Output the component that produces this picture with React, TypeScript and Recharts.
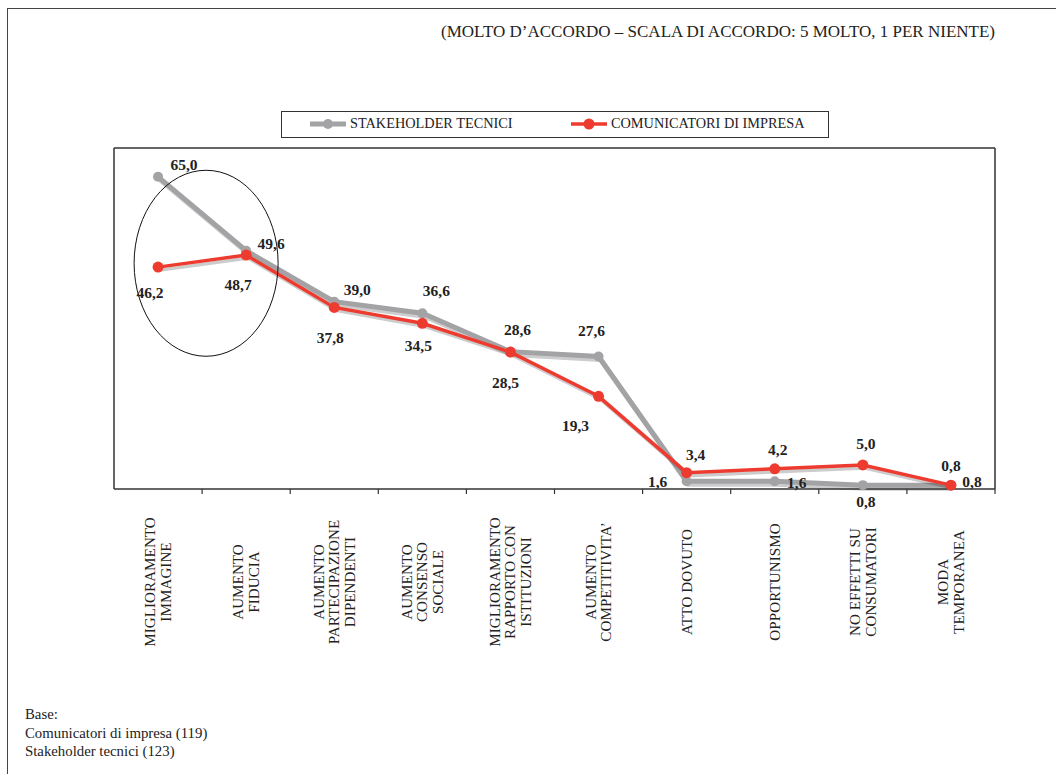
import React from 'react'
import { LineChart, Line, XAxis, YAxis, LabelList, ReferenceDot } from 'recharts'

const categories = [
  'MIGLIORAMENTO\nIMMAGINE',
  'AUMENTO\nFIDUCIA',
  'AUMENTO\nPARTECIPAZIONE\nDIPENDENTI',
  'AUMENTO\nCONSENSO\nSOCIALE',
  'MIGLIORAMENTO\nRAPPORTO CON\nISTITUZIONI',
  'AUMENTO\nCOMPETITIVITA’',
  'ATTO DOVUTO',
  'OPPORTUNISMO',
  'NO EFFETTI SU\nCONSUMATORI',
  'MODA\nTEMPORANEA',
]
const stakeholderTecnici = [65.0, 49.6, 39.0, 36.6, 28.6, 27.6, 1.6, 1.6, 0.8, 0.8]
const comunicatoriImpresa = [46.2, 48.7, 37.8, 34.5, 28.5, 19.3, 3.4, 4.2, 5.0, 0.8]

const title = '(MOLTO D’ACCORDO – SCALA DI ACCORDO: 5 MOLTO, 1 PER NIENTE)'
const baseNotes = ['Base:', 'Comunicatori di impresa (119)', 'Stakeholder tecnici (123)']

// label placement (dx, dy) around each point, as in the original
const stakeholderLabelPos = [[26, -12], [25, -7], [23, -12], [14, -23], [7, -22], [-7, -26], [-29, 0], [22, 1], [3, 16], [21, -4]]
const comunicatoriLabelPos = [[-8, 25], [-8, 29], [-4, 30], [-4, 22], [-5, 30], [-23, 29], [9, -18], [3, -19], [3, -21], [0, -20]]

const data = categories.map((c, i) => ({
  name: c,
  stakeholder: stakeholderTecnici[i],
  comunicatori: comunicatoriImpresa[i],
}))

const series = [
  { key: 'stakeholder', label: 'STAKEHOLDER TECNICI', color: '#a3a3a6', width: 5, r: 5, pos: stakeholderLabelPos },
  { key: 'comunicatori', label: 'COMUNICATORI DI IMPRESA', color: '#ee3b2f', width: 3.5, r: 5.5, pos: comunicatoriLabelPos },
]

const FONT = '"Liberation Serif", "Times New Roman", serif'
const W = 1056
const H = 774
const PLOT_LEFT = 114
const PLOT_RIGHT = 995
const PLOT_TOP = 148
const PLOT_BOTTOM = 489
const PLOT_W = PLOT_RIGHT - PLOT_LEFT
const STEP = PLOT_W / categories.length
const LABEL_CENTER_Y = 582
const AXIS_SIZE = 1

const fmt = (v: number) => v.toFixed(1).replace('.', ',')

const CategoryTick = (props: any) => {
  const { x, payload } = props
  const lines = String(payload.value).split('\n')
  return (
    <g>
      <line x1={x + STEP / 2} y1={PLOT_BOTTOM} x2={x + STEP / 2} y2={PLOT_BOTTOM + 5} stroke="#333" strokeWidth={1.2} />
      <text
        transform={`translate(${x},${LABEL_CENTER_Y}) rotate(-90)`}
        textAnchor="middle"
        fontSize={15.2}
        fill="#222"
        fontFamily={FONT}
      >
        {lines.map((l, i) => (
          <tspan key={i} x={0} y={(i - (lines.length - 1) / 2) * 15.5 + 5}>
            {l}
          </tspan>
        ))}
      </text>
    </g>
  )
}

const makeLabel = (pos: number[][]) => (props: any) => {
  const { x, y, value, index } = props
  const [dx, dy] = pos[index] || [0, -15]
  return (
    <text
      x={x + dx}
      y={y + dy}
      textAnchor="middle"
      dominantBaseline="central"
      fontSize={15.5}
      fontWeight="bold"
      fill="#222"
      fontFamily={FONT}
    >
      {fmt(Number(value))}
    </text>
  )
}

export default function App() {
  return (
    <div style={{ position: 'relative', width: W, height: H, background: '#fff', fontFamily: FONT, overflow: 'hidden' }}>
      <style>{`
        body { margin: 0; }
        .shadowed .recharts-line-curve, .shadowed .recharts-line-dots { filter: drop-shadow(2px 3px 0px rgba(0,0,0,0.2)); }
      `}</style>
      <div
        style={{
          position: 'absolute',
          left: 7,
          top: 8,
          width: W - 7,
          height: H - 8,
          borderTop: '1px solid #444',
          borderLeft: '1px solid #444',
        }}
      />
      <div
        style={{
          position: 'absolute',
          right: W - PLOT_RIGHT,
          top: 22,
          fontSize: 17,
          color: '#222',
          whiteSpace: 'nowrap',
        }}
      >
        {title}
      </div>

      <div
        style={{
          position: 'absolute',
          left: 281,
          top: 111,
          width: 548,
          height: 27,
          border: '1px solid #333',
          boxSizing: 'border-box',
        }}
      >
        {series.map((s, i) => (
          <div
            key={s.key}
            style={{
              position: 'absolute',
              left: i === 0 ? 28 : 289,
              top: 3,
              display: 'flex',
              alignItems: 'center',
              fontSize: 14.3,
              color: '#222',
              whiteSpace: 'nowrap',
            }}
          >
            <svg width={38} height={14} style={{ marginRight: 2 }}>
              <line x1={0} y1={7} x2={36} y2={7} stroke={s.color} strokeWidth={s.width} />
              <circle cx={18} cy={7} r={s.r} fill={s.color} />
            </svg>
            {s.label}
          </div>
        ))}
      </div>

      <div style={{ position: 'absolute', left: 0, top: 0 }}>
        <LineChart
          width={W}
          height={H}
          data={data}
          margin={{
            top: PLOT_TOP - AXIS_SIZE,
            left: PLOT_LEFT - AXIS_SIZE,
            right: W - PLOT_RIGHT - AXIS_SIZE,
            bottom: H - PLOT_BOTTOM - AXIS_SIZE,
          }}
        >
          <XAxis
            dataKey="name"
            height={AXIS_SIZE}
            interval={0}
            padding={{ left: STEP / 2, right: STEP / 2 }}
            tickLine={false}
            axisLine={{ stroke: '#333', strokeWidth: 1.5 }}
            tick={<CategoryTick />}
          />
          <XAxis
            xAxisId="top"
            dataKey="name"
            orientation="top"
            height={AXIS_SIZE}
            padding={{ left: STEP / 2, right: STEP / 2 }}
            tick={false}
            tickLine={false}
            axisLine={{ stroke: '#333', strokeWidth: 1.5 }}
          />
          <YAxis
            domain={[0, 71]}
            width={AXIS_SIZE}
            tick={false}
            tickLine={false}
            axisLine={{ stroke: '#333', strokeWidth: 1.5 }}
          />
          <YAxis
            yAxisId="right"
            orientation="right"
            domain={[0, 71]}
            width={AXIS_SIZE}
            tick={false}
            tickLine={false}
            axisLine={{ stroke: '#333', strokeWidth: 1.5 }}
          />
          {series.map((s) => (
            <Line
              key={s.key}
              className="shadowed"
              type="linear"
              dataKey={s.key}
              stroke={s.color}
              strokeWidth={s.width}
              dot={{ r: s.r, fill: s.color, stroke: 'none' }}
              activeDot={false}
              isAnimationActive={false}
            >
              <LabelList dataKey={s.key} content={makeLabel(s.pos)} />
            </Line>
          ))}
          <ReferenceDot
            x={categories[0]}
            y={47}
            r={1}
            ifOverflow="visible"
            shape={(p: any) => (
              <ellipse cx={p.cx + STEP / 2 + 4} cy={p.cy} rx={72} ry={93} fill="none" stroke="#111" strokeWidth={1} />
            )}
          />
        </LineChart>
      </div>

      <div style={{ position: 'absolute', left: 25, top: 705, fontSize: 14.8, lineHeight: '18.5px', color: '#222' }}>
        {baseNotes.map((t) => (
          <div key={t}>{t}</div>
        ))}
      </div>
    </div>
  )
}
